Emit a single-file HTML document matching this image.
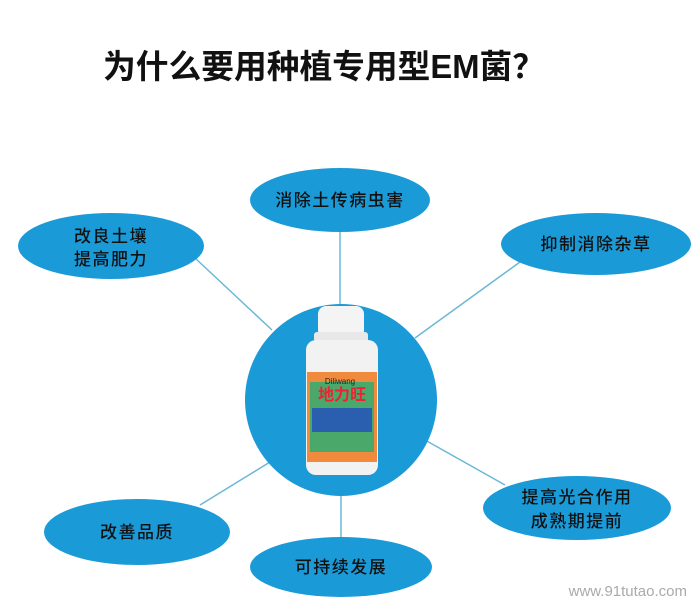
<!DOCTYPE html>
<html><head><meta charset="utf-8"><style>
html,body{margin:0;padding:0;background:#fff;}
svg{display:block;}
text{font-family:"Liberation Sans","Noto Sans CJK SC",sans-serif;}
</style></head><body>
<svg width="700" height="612" viewBox="0 0 700 612" xmlns="http://www.w3.org/2000/svg">
<rect width="700" height="612" fill="#fff"/>
<text x="103" y="78" font-size="33" font-weight="bold" fill="#111" textLength="442" lengthAdjust="spacingAndGlyphs">为什么要用种植专用型EM菌？</text>
<g stroke="#6bb8d6" stroke-width="1.5">
<line x1="340" y1="232" x2="340" y2="305"/>
<line x1="195" y1="258" x2="272" y2="330"/>
<line x1="520" y1="262" x2="415" y2="338"/>
<line x1="200" y1="505" x2="270" y2="462"/>
<line x1="341" y1="537" x2="341" y2="495"/>
<line x1="505" y1="485" x2="425" y2="440"/>
</g>
<circle cx="341" cy="400" r="96" fill="#1b9ad8"/>
<g fill="#1b9ad8">
<ellipse cx="340" cy="200" rx="90" ry="32"/>
<ellipse cx="111" cy="246" rx="93" ry="33"/>
<ellipse cx="596" cy="244" rx="95" ry="31"/>
<ellipse cx="137" cy="532" rx="93" ry="33"/>
<ellipse cx="341" cy="567" rx="91" ry="30"/>
<ellipse cx="577" cy="508" rx="94" ry="32"/>
</g>
<g fill="#111" font-size="17" font-weight="500" text-anchor="middle" letter-spacing="1.5">
<text x="340" y="206">消除土传病虫害</text>
<text x="111" y="242">改良土壤</text>
<text x="111" y="265">提高肥力</text>
<text x="596" y="250">抑制消除杂草</text>
<text x="137" y="538">改善品质</text>
<text x="341" y="573">可持续发展</text>
<text x="577" y="503">提高光合作用</text>
<text x="577" y="527">成熟期提前</text>
</g>
<rect x="318" y="306" width="46" height="32" rx="8" fill="#f4f4f4"/>
<rect x="314" y="332" width="54" height="10" rx="3" fill="#e8e8e8"/>
<rect x="306" y="340" width="72" height="135" rx="10" fill="#f2f2f2"/>
<rect x="307" y="372" width="70" height="90" fill="#f08a3c"/>
<rect x="310" y="382" width="64" height="70" fill="#4aa86a"/>
<rect x="312" y="408" width="60" height="24" fill="#2a5fb0"/>
<text x="342" y="400" font-size="16" font-weight="bold" fill="#e23" text-anchor="middle">地力旺</text>
<text x="340" y="384" font-size="8" fill="#222" text-anchor="middle">Diliwang</text>
<text x="687" y="596" font-size="15" fill="#aaa" text-anchor="end">www.91tutao.com</text>
</svg>
</body></html>
